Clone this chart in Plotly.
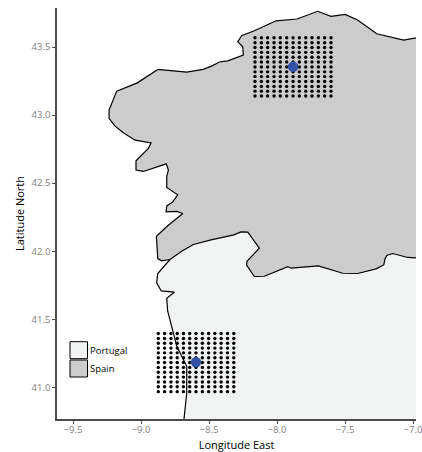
import plotly.graph_objects as go

# Coastline / border readings, in degrees
spain_north_lon = [-8.877,-8.664,-8.544,-8.485,-8.424,-8.362,-8.248,-8.252,-8.289,-8.260,-8.167,-8.007,-7.853,-7.701,-7.603,-7.500,-7.407,-7.267,-7.068,-6.978]
spain_north_lat = [43.336,43.316,43.336,43.358,43.390,43.399,43.441,43.502,43.539,43.583,43.620,43.693,43.706,43.763,43.726,43.740,43.699,43.598,43.551,43.568]
border_lon = [-6.978,-7.039,-7.149,-7.193,-7.206,-7.215,-7.272,-7.407,-7.517,-7.627,-7.696,-7.897,-7.921,-8.093,-8.167,-8.223,-8.221,-8.130,-8.179,-8.215,-8.265,-8.318,-8.485,-8.615,-8.701,-8.787]
border_lat = [41.951,41.954,41.983,41.968,41.943,41.899,41.870,41.836,41.838,41.870,41.892,41.875,41.887,41.816,41.814,41.897,41.926,42.022,42.086,42.140,42.142,42.120,42.083,42.049,42.000,41.939]
spain_west_lon = [-8.787,-8.848,-8.877,-8.887,-8.804,-8.693,-8.737,-8.816,-8.811,-8.767,-8.730,-8.811,-8.811,-8.799,-8.814,-8.983,-9.037,-9.037,-8.946,-8.926,-9.044,-9.130,-9.191,-9.235,-9.235,-9.179,-9.027,-8.877]
spain_west_lat = [41.939,41.929,41.946,42.110,42.187,42.277,42.292,42.289,42.333,42.362,42.414,42.468,42.546,42.596,42.642,42.586,42.596,42.664,42.755,42.796,42.816,42.870,42.919,42.976,43.037,43.176,43.237,43.336]
portugal_coast_lon = [-8.787,-8.877,-8.885,-8.851,-8.755,-8.811,-8.804,-8.737,-8.664,-8.664,-8.684]
portugal_coast_lat = [41.939,41.836,41.767,41.708,41.699,41.654,41.559,41.301,41.154,40.958,40.767]

# Sampling grids
north_grid_lon = [-8.162,-8.115,-8.069,-8.022,-7.976,-7.929,-7.882,-7.836,-7.789,-7.743,-7.696,-7.650,-7.603]
north_grid_lat = [43.568,43.532,43.497,43.461,43.425,43.390,43.354,43.318,43.283,43.247,43.211,43.176,43.140]
south_grid_lon = [-8.873,-8.827,-8.780,-8.734,-8.688,-8.642,-8.596,-8.549,-8.503,-8.457,-8.411,-8.364,-8.318]
south_grid_lat = [41.395,41.359,41.324,41.288,41.253,41.217,41.182,41.146,41.110,41.075,41.039,41.004,40.968]
centre_lon = [-7.882, -8.596]
centre_lat = [43.355, 41.184]

x_ticks = [-9.5,-9.0,-8.5,-8.0,-7.5,-7.0]
x_tick_labels = ["−9.5","−9.0","−8.5","−8.0","−7.5","−7.0"]
y_ticks = [41.0,41.5,42.0,42.5,43.0,43.5]
y_tick_labels = ["41.0","41.5","42.0","42.5","43.0","43.5"]
legend_names = ["Portugal","Spain"]

X_RANGE = [-9.618,-6.978]
Y_RANGE = [40.767,43.787]
FONT = "Open Sans"
AXIS = "#4d4d4d"
PORT = "#f2f4f3"
SPAIN = "#cccccc"

fig = go.Figure()
# Portugal fill
fig.add_trace(go.Scatter(
    x=portugal_coast_lon + [X_RANGE[1]] + border_lon[:-1],
    y=portugal_coast_lat + [Y_RANGE[0]] + border_lat[:-1],
    fill="toself", fillcolor=PORT, mode="none", hoverinfo="skip", showlegend=False))
# Spain fill
fig.add_trace(go.Scatter(
    x=spain_north_lon + border_lon + spain_west_lon[1:],
    y=spain_north_lat + border_lat + spain_west_lat[1:],
    fill="toself", fillcolor=SPAIN, mode="none", hoverinfo="skip", showlegend=False))
# Outline
fig.add_trace(go.Scatter(
    x=spain_north_lon, y=spain_north_lat, mode="lines",
    line=dict(color="black", width=1.2), showlegend=False))
fig.add_trace(go.Scatter(
    x=border_lon + spain_west_lon[1:], y=border_lat + spain_west_lat[1:], mode="lines",
    line=dict(color="black", width=1.2), showlegend=False))
fig.add_trace(go.Scatter(
    x=portugal_coast_lon, y=portugal_coast_lat, mode="lines",
    line=dict(color="black", width=1.2), showlegend=False))
# Grids
for lons, lats in ((north_grid_lon, north_grid_lat), (south_grid_lon, south_grid_lat)):
    fig.add_trace(go.Scatter(
        x=[lo for la in lats for lo in lons],
        y=[la for la in lats for lo in lons],
        mode="markers", marker=dict(color="black", size=3.4), showlegend=False))
# Centres
fig.add_trace(go.Scatter(
    x=centre_lon, y=centre_lat, mode="markers",
    marker=dict(color="#3352a3", size=10.5), showlegend=False))

axis_common = dict(showgrid=False, zeroline=False, showline=True, linecolor=AXIS, linewidth=1.5,
                   ticks="outside", ticklen=3, tickwidth=1, tickcolor=AXIS,
                   ticklabeloverflow="allow",
                   tickfont=dict(family=FONT, size=9.5, color="#7f7f7f"))
fig.update_xaxes(range=X_RANGE, tickvals=x_ticks, ticktext=x_tick_labels, automargin=False,
                 ticklabelstandoff=-2,
                 title=dict(text="Longitude East", font=dict(family=FONT, size=11, color="black")),
                 **axis_common)
fig.update_yaxes(range=Y_RANGE, tickvals=y_ticks, ticktext=y_tick_labels, automargin=True,
                 title=dict(text="Latitude North", font=dict(family=FONT, size=11, color="black"), standoff=5),
                 **axis_common)

W, H = 422, 452
L, R, T, B = 57, 6, 8, 33
def px(x): return (x - L) / (W - L - R)
def py(y): return 1 - (y - T) / (H - T - B)
for (y0, y1), color, name in zip(((341.7, 358.7), (360, 377)), (PORT, SPAIN), legend_names):
    fig.add_shape(type="rect", xref="paper", yref="paper", x0=px(70), x1=px(87.5), y0=py(y0), y1=py(y1),
                  fillcolor=color, line=dict(color="black", width=1), layer="above")
    fig.add_annotation(text=name, xref="paper", yref="paper", x=px(88), y=py((y0 + y1) / 2),
                       xanchor="left", yanchor="middle", showarrow=False,
                       font=dict(family=FONT, size=9.5, color="black"))

fig.update_layout(width=W, height=H, margin=dict(l=L, r=R, t=T, b=B),
                  paper_bgcolor="white", plot_bgcolor="white", showlegend=False)
fig.write_html("out.html", config=dict(displayModeBar=False),
               post_script="document.body.style.margin='0';")
